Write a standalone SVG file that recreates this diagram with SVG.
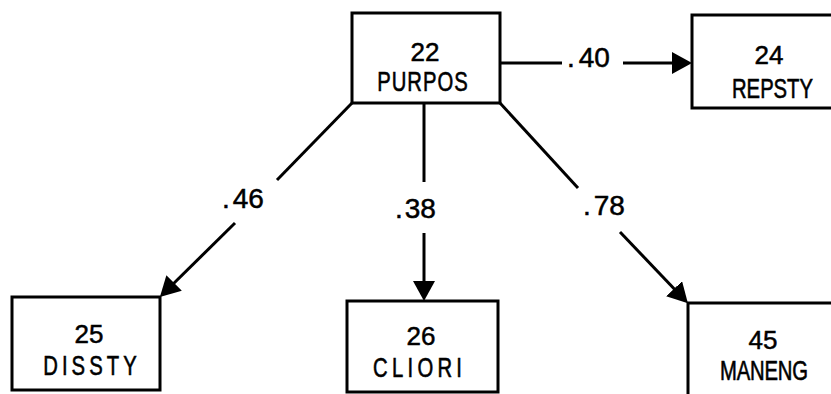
<svg xmlns="http://www.w3.org/2000/svg" width="831" height="394" viewBox="0 0 831 394">
<style>
  .box { fill: #fff; stroke: #000; stroke-width: 3; }
  .edge { fill: none; stroke: #000; stroke-width: 3; }
  .t { font-family: "Liberation Sans", Arial, sans-serif; font-size: 27px; fill: #000; stroke: #000; stroke-width: 0.6; text-anchor: middle; }
  .num { font-family: "Liberation Sans", Arial, sans-serif; font-size: 26px; fill: #000; stroke: #000; stroke-width: 0.5; text-anchor: middle; }
  .lbl { font-family: "Liberation Sans", Arial, sans-serif; font-size: 28px; fill: #000; stroke: #000; stroke-width: 0.5; }
</style>
<defs>
  <marker id="ah" viewBox="0 0 20 22" refX="10" refY="11" markerWidth="20" markerHeight="22" markerUnits="userSpaceOnUse" orient="auto">
    <path d="M0,0 L20,11 L0,22 Z" fill="#000"/>
  </marker>
</defs>
<rect width="831" height="394" fill="#fff"/>
<g id="connectors">
  <path class="edge" d="M500,63 L562,63"/>
  <path class="edge" d="M623,63 L682,63" marker-end="url(#ah)"/>
  <text class="lbl" x="567" y="67">.<tspan dx="4">40</tspan></text>
  <path class="edge" d="M352,103 L277,180"/>
  <path class="edge" d="M235,223 L167,290" marker-end="url(#ah)"/>
  <text class="lbl" x="222" y="208">.<tspan dx="3">46</tspan></text>
  <path class="edge" d="M424,103 L424,182"/>
  <path class="edge" d="M424,233 L424,291" marker-end="url(#ah)"/>
  <text class="lbl" x="395" y="218">.<tspan dx="2">38</tspan></text>
  <path class="edge" d="M500,103 L578,188"/>
  <path class="edge" d="M620,232 L681,296" marker-end="url(#ah)"/>
  <text class="lbl" x="583" y="215">.<tspan dx="3">78</tspan></text>
</g>
<g id="n22">
  <rect class="box" x="352" y="13" width="148" height="90"/>
  <text class="num" x="425" y="61">22</text>
  <text class="t" transform="translate(422.5,91) scale(0.75,1)" textLength="121" lengthAdjust="spacing">PURPOS</text>
</g>
<g id="n24">
  <rect class="box" x="692" y="15" width="160" height="93"/>
  <text class="num" x="769" y="64">24</text>
  <text class="t" transform="translate(772.5,98) scale(0.75,1)" textLength="108" lengthAdjust="spacing">REPSTY</text>
</g>
<g id="n25">
  <rect class="box" x="12" y="297" width="148" height="93"/>
  <text class="num" x="89" y="343">25</text>
  <text class="t" transform="translate(90,375) scale(0.75,1)" textLength="125" lengthAdjust="spacing">DISSTY</text>
</g>
<g id="n26">
  <rect class="box" x="347" y="301" width="151" height="91"/>
  <text class="num" x="421" y="345">26</text>
  <text class="t" transform="translate(417.5,377) scale(0.75,1)" textLength="118.7" lengthAdjust="spacing">CLIORI</text>
</g>
<g id="n45">
  <rect class="box" x="688" y="303" width="160" height="100"/>
  <text class="num" x="763" y="349">45</text>
  <text class="t" transform="translate(764,380) scale(0.75,1)" textLength="117.3" lengthAdjust="spacing">MANENG</text>
</g>
</svg>
